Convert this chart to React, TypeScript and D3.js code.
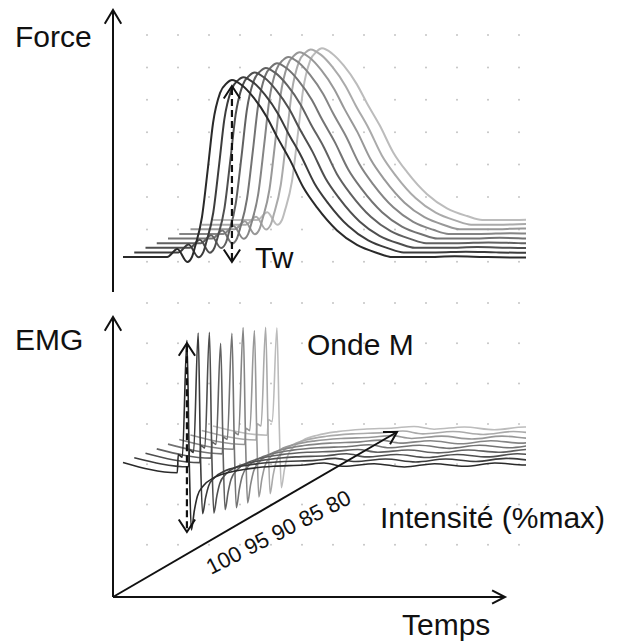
import * as d3 from "d3";
import { useEffect, useRef } from "react";

// stimulation intensities (%max), front (darkest) to back (lightest)
const intensities = [100, 97.5, 95, 92.5, 90, 87.5, 85, 82.5, 80];
const intensityTicks = [100, 95, 90, 85, 80];

// twitch force of the 100% trace (ms, % of peak)
const twitchTime = [0, 12, 22, 27, 32, 34.3, 35.8, 39.3, 42.3, 44.8, 48.3, 51.7, 54.2, 59.2, 65, 71.6, 76.6, 83, 89.6, 96.5, 106.5, 116.4, 126.4, 134, 150, 165, 180, 200, 230, 260];
const twitchForce = [0, 0, 0, 4.5, -2.8, 0, 5.6, 22.6, 50.8, 75.7, 92.7, 98.3, 100, 97, 90, 79, 68, 55, 39.5, 28, 15, 6.8, 2.3, 0, 0, 0.4, 0, -0.3, 0, 0];
const twitchPeak = [100, 99, 99, 99, 99, 100, 100, 99, 97];

// M-wave of the 100% trace (ms, mV)
const mwaveTime = [0, 27, 27.5, 29.5, 31.8, 33, 34, 35.5, 37, 40, 45, 52, 62, 75, 90, 100, 110, 125, 140, 155, 170, 185, 200, 230, 260];
const mwaveAmp = [0.2, -0.6, 0.8, 0.6, 9.6, 0, -5, -3.5, -2.4, -1.6, -1, -0.6, -0.3, -0.1, 0, 0.15, -0.1, 0.1, -0.15, 0.1, -0.1, 0.15, 0, 0.1, 0];
const mwavePeak = [9.6, 9.8, 9.5, 8.3, 8.7, 8.8, 8.2, 8.1, 7.7];
const mwaveTrough = [-5, -4.1, -4.4, -4.5, -4.7, -4.7, -4.6, -4.7, -4.6];

const W = 620;
const H = 643;
const FONT = "'Liberation Sans', Arial, sans-serif";

export default function App() {
  const svgRef = useRef<SVGSVGElement>(null);

  useEffect(() => {
    const svg = d3.select(svgRef.current);
    svg.selectAll("*").remove();

    const x = d3.scaleLinear().domain([0, 200]).range([123, 525]);
    const yForce = d3.scaleLinear().domain([0, 100]).range([257, 80]);
    const yEmg = d3.scaleLinear().domain([0, 10]).range([465, 335]);
    const depth = d3.scaleLinear().domain([100, 80]).range([0, 1]);
    const shade = d3
      .scaleLinear<string>()
      .domain([100, 80])
      .range(["#2a2a2a", "#bcbcbc"])
      .interpolate(d3.interpolateRgb);
    const DX = 90;
    const DY = -37;

    svg
      .append("defs")
      .append("clipPath")
      .attr("id", "plotClip")
      .append("rect")
      .attr("x", 0)
      .attr("y", 0)
      .attr("width", 526)
      .attr("height", H);

    // dotted grid
    const grid = svg.append("g").attr("fill", "#c4c4c4");
    const gx = d3.range(147, 525, 31);
    const rows = [...d3.range(35, 265, 32.4), ...d3.range(303, 550, 40.3)];
    rows.forEach((gy) => {
      gx.forEach((px) => {
        grid.append("circle").attr("cx", px).attr("cy", gy).attr("r", 1);
      });
    });

    const idx = d3.range(twitchTime.length);
    const order = d3.range(intensities.length).reverse();

    // force traces
    const forceG = svg.append("g").attr("clip-path", "url(#plotClip)");
    order.forEach((k) => {
      const v = intensities[k];
      const line = d3
        .line<number>()
        .x((j) => x(twitchTime[j]))
        .y((j) => yForce((twitchForce[j] * twitchPeak[k]) / 100))
        .curve(d3.curveMonotoneX);
      forceG
        .append("g")
        .attr("transform", `translate(${depth(v) * DX},${depth(v) * DY})`)
        .append("path")
        .attr("d", line(idx))
        .attr("fill", "none")
        .attr("stroke", shade(v))
        .attr("stroke-width", 2);
    });

    // EMG traces
    const emgIdx = d3.range(mwaveTime.length);
    const emgG = svg.append("g").attr("clip-path", "url(#plotClip)");
    order.forEach((k) => {
      const v = intensities[k];
      const amp = (a: number) =>
        a > 0 ? (a * mwavePeak[k]) / mwavePeak[0] : (a * mwaveTrough[k]) / mwaveTrough[0];
      const line = d3
        .line<number>()
        .x((j) => x(mwaveTime[j]))
        .y((j) => yEmg(amp(mwaveAmp[j])))
        .curve(d3.curveMonotoneX);
      emgG
        .append("g")
        .attr("transform", `translate(${depth(v) * DX},${depth(v) * DY})`)
        .append("path")
        .attr("d", line(emgIdx))
        .attr("fill", "none")
        .attr("stroke", shade(v))
        .attr("stroke-width", 1.6);
    });

    const chevron = (tx: number, ty: number, ang: number, len = 15, spread = 30) => {
      const s = (spread * Math.PI) / 180;
      const a1 = [tx - len * Math.cos(ang - s), ty - len * Math.sin(ang - s)];
      const a2 = [tx - len * Math.cos(ang + s), ty - len * Math.sin(ang + s)];
      return `M${a1[0]},${a1[1]}L${tx},${ty}L${a2[0]},${a2[1]}`;
    };

    const axes = svg
      .append("g")
      .attr("fill", "none")
      .attr("stroke", "#111")
      .attr("stroke-width", 2)
      .attr("stroke-linejoin", "miter");

    const up = -Math.PI / 2;
    // force axis
    axes.append("path").attr("d", `M113,292L113,10`);
    axes.append("path").attr("d", chevron(113, 10, up, 16, 31));
    // EMG axis
    axes.append("path").attr("d", `M113,597L113,317`);
    axes.append("path").attr("d", chevron(113, 317, up, 16, 31));
    // time axis
    axes.append("path").attr("d", `M113,597L505,597`);
    axes.append("path").attr("d", chevron(505, 597, 0, 14.5, 27));
    // intensity axis
    const diagAng = Math.atan2(432 - 597, 397 - 113);
    axes.append("path").attr("d", `M113,597L397,432`);
    axes.append("path").attr("d", chevron(397, 432, diagAng, 14, 30));

    // dashed amplitude arrows
    const tPeak = twitchTime[d3.maxIndex(twitchForce)];
    const fx = x(tPeak);
    const fTop = yForce(d3.max(twitchForce) as number) + 6;
    const fBot = yForce(0) + 5;
    axes
      .append("path")
      .attr("d", `M${fx},${fTop + 2}L${fx},${fBot - 2}`)
      .attr("stroke-dasharray", "7,4")
      .attr("stroke-width", 2.2);
    axes.append("path").attr("d", chevron(fx, fTop, up, 15, 33));
    axes.append("path").attr("d", chevron(fx, fBot, Math.PI / 2, 15, 33));

    const mPeak = mwaveTime[d3.maxIndex(mwaveAmp)];
    const ex = x(mPeak);
    const eTop = yEmg(d3.max(mwaveAmp) as number) + 3;
    const eBot = yEmg(d3.min(mwaveAmp) as number) + 2;
    axes
      .append("path")
      .attr("d", `M${ex},${eTop + 2}L${ex},${eBot - 2}`)
      .attr("stroke-dasharray", "7,4")
      .attr("stroke-width", 2.2);
    axes.append("path").attr("d", chevron(ex, eTop, up, 15, 33));
    axes.append("path").attr("d", chevron(ex, eBot, Math.PI / 2, 15, 33));

    // labels
    const labels = svg
      .append("g")
      .attr("font-family", FONT)
      .attr("font-size", 30)
      .attr("fill", "#111");
    const addText = (t: string, tx: number, ty: number) =>
      labels.append("text").attr("x", tx).attr("y", ty).text(t);
    addText("Force", 15, 47);
    addText("EMG", 15, 350);
    addText("Tw", 255, 268);
    addText("Onde M", 307, 355);
    addText("Intensité (%max)", 380, 528);
    addText("Temps", 402, 635);

    labels
      .append("text")
      .attr("transform", "translate(211,575) rotate(-27)")
      .attr("font-size", 22)
      .text(intensityTicks.join(" "));
  }, []);

  return (
    <svg
      ref={svgRef}
      width={W}
      height={H}
      style={{ position: "absolute", left: 0, top: 0, background: "#fff" }}
    />
  );
}
